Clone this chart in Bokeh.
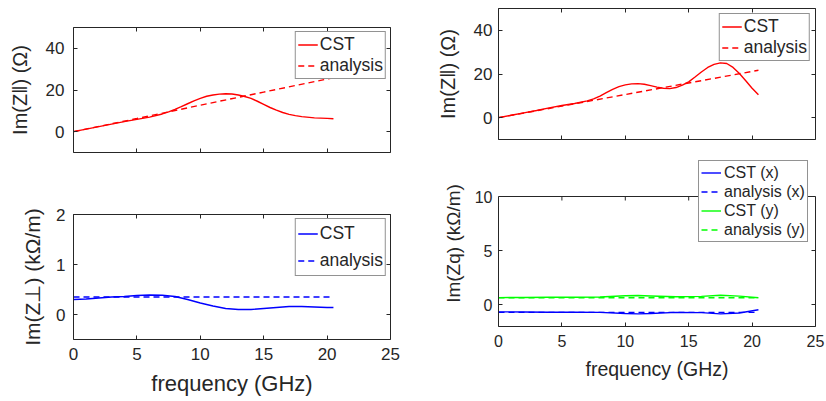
from bokeh.plotting import figure
from bokeh.models import Range1d, LinearAxis, FixedTicker, Legend, LegendItem, Span, Plot
from bokeh.layouts import row, column
from bokeh.embed import file_html
from bokeh.resources import INLINE

# ---------------- data ----------------
x_ticks = [0, 5, 10, 15, 20, 25]

# top-left: longitudinal, CST vs analysis
freq_tl = [0, 1, 2, 3, 4, 5, 6, 7, 7.5, 8, 8.5, 9, 9.5, 10, 10.5, 11, 11.5, 12, 12.5, 13, 13.5,
           14, 14.5, 15, 15.5, 16, 16.5, 17, 17.5, 18, 19, 20, 20.5]
cst_tl = [0, 1.2, 2.4, 3.6, 4.8, 5.9, 7.0, 8.5, 9.5, 10.7, 12.0, 13.4, 14.8, 16.0, 17.0, 17.6,
          18.0, 18.2, 18.1, 17.6, 16.9, 16.0, 14.6, 13.1, 11.6, 10.3, 9.2, 8.3, 7.7, 7.2, 6.6,
          6.4, 6.2]
freq_tl_an = [0, 5, 10, 15, 20.5]
an_tl = [0, 6.3, 12.7, 19.0, 25.9]

# top-right: longitudinal, CST vs analysis
freq_tr = [0, 1, 2, 3, 4, 5, 6, 7, 7.5, 8, 8.5, 9, 9.5, 10, 10.5, 11, 11.5, 12, 12.5, 13, 13.5,
           14, 14.5, 15, 15.5, 16, 16.5, 17, 17.5, 18, 18.5, 19, 19.5, 20, 20.5]
cst_tr = [0, 1.1, 2.2, 3.3, 4.5, 5.6, 6.5, 7.7, 8.6, 9.9, 11.5, 13.0, 14.2, 15.0, 15.5, 15.6,
          15.3, 14.7, 14.0, 13.5, 13.3, 13.8, 14.9, 16.4, 18.6, 20.9, 23.0, 24.4, 25.1, 24.8,
          23.0, 20.2, 16.9, 13.5, 10.5]
freq_tr_an = [0, 5, 10, 15, 20.5]
an_tr = [0, 5.3, 10.6, 15.9, 21.7]

# bottom-left: transverse
freq_bl = [0, 1, 2, 3, 4, 5, 6, 7, 8, 9, 10, 11, 12, 13, 14, 15, 16, 17, 18, 19, 20, 20.5]
cst_bl = [0.30, 0.31, 0.33, 0.35, 0.36, 0.38, 0.39, 0.385, 0.36, 0.30, 0.23, 0.17, 0.12, 0.10,
          0.10, 0.12, 0.14, 0.16, 0.16, 0.15, 0.14, 0.14]
freq_bl_an = [0, 20.5]
an_bl = [0.35, 0.35]

# bottom-right: quadrupolar x / y
freq_br = [0, 2, 4, 6, 8, 10, 11, 12, 14, 16, 17.5, 19, 20.5]
cst_x = [-0.65, -0.66, -0.68, -0.68, -0.70, -0.80, -0.83, -0.80, -0.70, -0.72, -0.83, -0.75, -0.45]
cst_y = [0.67, 0.68, 0.70, 0.70, 0.72, 0.84, 0.86, 0.82, 0.74, 0.78, 0.88, 0.80, 0.65]
freq_br_an = [0, 20.5]
an_x = [-0.70, -0.70]
an_y = [0.65, 0.65]

# axis titles
ylabel_long = "Im(Z\u2016) (\u03a9)"
ylabel_perp = "Im(Z\u22a5) (k\u03a9/m)"
ylabel_quad = "Im(Zq) (k\u03a9/m)"
xlabel = "frequency (GHz)"

# ---------------- styling ----------------
FONT = "Liberation Sans"
AX = "#262626"
RED = "#ff0000"
BLUE = "#0000ff"
GREEN = "#00ff00"
DASH = "6 4"
LW = 1.4
HAS_FRAME_ALIGN = "frame_align" in Plot.properties()


def style_axis(ax, ticks, labels, tick_size="17px"):
    ax.axis_line_color = AX
    ax.axis_line_width = 1
    ax.major_tick_line_color = AX
    ax.major_tick_in = 4
    ax.major_tick_out = 0
    ax.minor_tick_line_color = None
    if labels:
        ax.major_label_text_font = FONT
        ax.major_label_text_font_size = tick_size
        ax.major_label_text_color = AX
    else:
        ax.major_label_overrides = {t: "" for t in ticks}
        ax.major_label_text_font_size = "0px"
        ax.major_label_standoff = 0


def make_fig(w, h, bl, br, bt, bb, yr, yticks, tick_size, ystand, xlabels, ylabel,
             ylabel_size, ylabel_stand, xstand=8, xlabel_size="22px", xlabel_stand=2,
             top_axis=True, ybounds=None):
    p = figure(width=w, height=h, x_range=Range1d(0, 25), y_range=Range1d(*yr),
               output_backend="svg", toolbar_location=None,
               x_axis_location=None, y_axis_location=None,
               min_border_left=bl, min_border_right=br,
               min_border_top=bt, min_border_bottom=bb)
    if HAS_FRAME_ALIGN:
        p.frame_align = False
    p.outline_line_color = None
    p.background_fill_color = "white"
    p.border_fill_color = "white"
    for g in p.grid:
        g.visible = False

    xb = LinearAxis(ticker=FixedTicker(ticks=x_ticks))
    style_axis(xb, x_ticks, xlabels, tick_size)
    if xlabels:
        xb.major_label_standoff = xstand
        xb.axis_label = xlabel
        xb.axis_label_text_font = FONT
        xb.axis_label_text_font_size = xlabel_size
        xb.axis_label_text_font_style = "normal"
        xb.axis_label_text_color = AX
        xb.axis_label_standoff = xlabel_stand
    p.add_layout(xb, "below")
    if top_axis:
        xa = LinearAxis(ticker=FixedTicker(ticks=x_ticks))
        style_axis(xa, x_ticks, False)
        p.add_layout(xa, "above")
    yl = LinearAxis(ticker=FixedTicker(ticks=yticks))
    style_axis(yl, yticks, True, tick_size)
    yl.major_label_standoff = ystand
    yl.axis_label = ylabel
    yl.axis_label_text_font = FONT
    yl.axis_label_text_font_size = ylabel_size
    yl.axis_label_text_font_style = "normal"
    yl.axis_label_text_color = AX
    yl.axis_label_standoff = ylabel_stand
    yr_ = LinearAxis(ticker=FixedTicker(ticks=yticks))
    style_axis(yr_, yticks, False)
    if ybounds is not None:
        yl.bounds = ybounds
        yr_.bounds = ybounds
    p.add_layout(yl, "left")
    p.add_layout(yr_, "right")
    return p


def add_legend(p, items, loc, size, pad, lh, spacing, margin, standoff=2):
    lg = Legend(items=items, location=loc)
    lg.label_text_font = FONT
    lg.label_text_font_size = size
    lg.label_text_color = AX
    lg.glyph_width = 20
    lg.glyph_height = lh
    lg.label_height = lh
    lg.label_standoff = standoff
    lg.padding = pad
    lg.spacing = spacing
    lg.margin = margin
    lg.border_line_color = AX
    lg.border_line_width = 1
    lg.background_fill_color = "white"
    lg.background_fill_alpha = 1
    p.add_layout(lg)


# ---- top-left ----
f1 = make_fig(413, 190, 73, 23, 27, 38, (-10, 50), [0, 20, 40], "17px", 9, False,
              ylabel_long, "20px", 12)
r1 = f1.line(freq_tl, cst_tl, line_color=RED, line_width=LW)
r2 = f1.line(freq_tl_an, an_tl, line_color=RED, line_width=LW, line_dash=DASH)
add_legend(f1, [LegendItem(label="CST", renderers=[r1]),
                LegendItem(label="analysis", renderers=[r2])],
           "top_right", "17.5px", 2, 21, 0, 4)

# ---- bottom-left ----
f3 = make_fig(413, 211, 73, 23, 24, 62, (-0.5, 2), [0, 1, 2], "17px", 8, True,
              ylabel_perp, "21px", 9, xstand=8, xlabel_size="22px", xlabel_stand=8)
r3 = f3.line(freq_bl, cst_bl, line_color=BLUE, line_width=LW)
r4 = f3.line(freq_bl_an, an_bl, line_color=BLUE, line_width=LW, line_dash=DASH)
add_legend(f3, [LegendItem(label="CST", renderers=[r3]),
                LegendItem(label="analysis", renderers=[r4])],
           "top_right", "17.5px", 2, 25, 2, 4)

# ---- top-right ----
f2 = make_fig(413, 155, 85, 11, 8, 16, (-10, 50), [0, 20, 40], "17px", 6, False,
              ylabel_long, "20px", 12)
r5 = f2.line(freq_tr, cst_tr, line_color=RED, line_width=LW)
r6 = f2.line(freq_tr_an, an_tr, line_color=RED, line_width=LW, line_dash=DASH)
add_legend(f2, [LegendItem(label="CST", renderers=[r5]),
                LegendItem(label="analysis", renderers=[r6])],
           "top_right", "17.5px", 2, 21, 0, 5)

# ---- bottom-right ----
# frame is taller than the boxed area so the legend can sit above it unclipped
y_lo, y_hi = -2, 10
px_per_unit = 130.0 / (y_hi - y_lo)
frame_top_extra = 36.0
f4 = make_fig(413, 246, 85, 11, 5, 75,
              (y_lo, y_hi + frame_top_extra / px_per_unit), [0, 5, 10], "16px", 6, True,
              ylabel_quad, "19px", 8, xstand=8, xlabel_size="19.5px", xlabel_stand=8,
              top_axis=False, ybounds=(y_lo, y_hi))
f4.add_layout(Span(location=y_hi, dimension="width", line_color=AX, line_width=1))
f4.segment(x0=x_ticks[1:-1], y0=[y_hi] * 4, x1=x_ticks[1:-1],
           y1=[y_hi - 4 / px_per_unit] * 4, line_color=AX, line_width=1)
r7 = f4.line(freq_br, cst_x, line_color=BLUE, line_width=LW)
r8 = f4.line(freq_br_an, an_x, line_color=BLUE, line_width=LW, line_dash=DASH)
r9 = f4.line(freq_br, cst_y, line_color=GREEN, line_width=LW)
r10 = f4.line(freq_br_an, an_y, line_color=GREEN, line_width=LW, line_dash=DASH)
add_legend(f4, [LegendItem(label="CST (x)", renderers=[r7]),
                LegendItem(label="analysis (x)", renderers=[r8]),
                LegendItem(label="CST (y)", renderers=[r9]),
                LegendItem(label="analysis (y)", renderers=[r10])],
           (200, 84), "16px", 2, 19, 0, 0, standoff=3)

layout = row(column(f1, f3), column(f2, f4))
open("out.html", "w").write(file_html(layout, INLINE))
